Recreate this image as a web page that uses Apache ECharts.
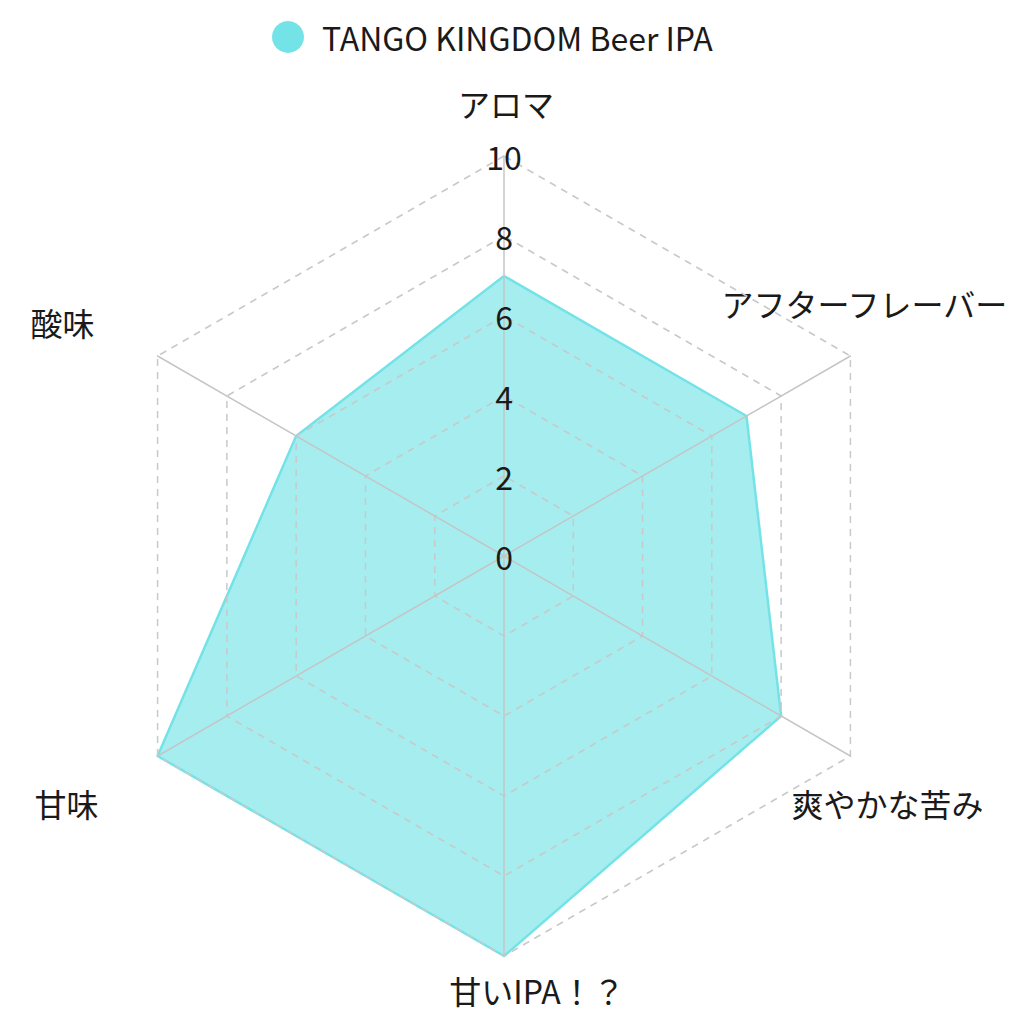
<!DOCTYPE html>
<html>
<head>
<meta charset="utf-8">
<script src="https://cdn.jsdelivr.net/npm/echarts@6/dist/echarts.min.js"></script>
<style>html,body{margin:0;padding:0;background:#fff}#c{width:1024px;height:1024px}</style>
</head>
<body>
<div id="c"></div>
<script>
// ---- data (clockwise from top, as in the reference) ----
var categories = ['アロマ', 'アフターフレーバー', '爽やかな苦み', '甘いIPA！？', '甘味', '酸味'];
var seriesName = 'TANGO KINGDOM Beer IPA';
var values = [7, 7, 8, 10, 10, 6];
var axisMax = 10;
var tickLabels = ['0', '2', '4', '6', '8', '10'];

// ---- layout ----
var FONT = '"Noto Sans CJK JP", "Noto Sans", sans-serif';
var CX = 504, CY = 556, R = 400;
// label centre offsets from each outer vertex (clockwise order)
var labelOffsets = [[2, -53], [14, -53], [37, 47], [33, 34], [-91, 47], [-95, -34]];

// ECharts lays indicators out counter-clockwise; reorder so the picture matches
var order = [0, 5, 4, 3, 2, 1];
var indicators = order.map(function (i, k) {
  var ind = { name: categories[i], max: axisMax, min: 0 };
  if (k === 0) ind.axisLabel = { show: true };
  return ind;
});
var ordered = order.map(function (i) { return values[i]; });

var graphics = categories.map(function (name, i) {
  var a = (90 - i * 60) * Math.PI / 180;
  var vx = CX + R * Math.cos(a), vy = CY - R * Math.sin(a);
  return {
    type: 'text',
    x: vx + labelOffsets[i][0],
    y: vy + labelOffsets[i][1],
    style: { text: name, font: '32px ' + FONT, fill: '#1a1a1a', align: 'center', verticalAlign: 'middle' }
  };
});

var chart = echarts.init(document.getElementById('c'), null, { renderer: 'svg' });
chart.setOption({
  animation: false,
  backgroundColor: '#ffffff',
  legend: {
    data: [seriesName],
    left: 267, top: 16,
    icon: 'circle', itemWidth: 32, itemHeight: 32,
    textStyle: { fontFamily: FONT, fontSize: 32, color: '#1a1a1a', padding: [0, 0, 0, 13] }
  },
  radar: {
    z: 5,
    center: [CX, CY],
    radius: R,
    startAngle: 90,
    splitNumber: 5,
    shape: 'polygon',
    indicator: indicators,
    axisName: { show: false },
    axisLine: { lineStyle: { color: '#c4c6c6', width: 1.5 } },
    splitLine: { lineStyle: { color: '#c6caca', width: 1.5, type: [7, 6] } },
    splitArea: { show: false },
    axisTick: { show: false },
    axisLabel: {
      show: false, fontFamily: FONT, fontSize: 32, color: '#1a1a1a',
      align: 'center', verticalAlign: 'middle', margin: 0,
      formatter: function (v) { return tickLabels[Math.round(v / 2)] || ''; }
    }
  },
  graphic: graphics,
  series: [{
    type: 'radar',
    z: 2,
    name: seriesName,
    symbol: 'none',
    itemStyle: { color: '#74e3e7' },
    lineStyle: { color: '#74e3e7', width: 2.5 },
    areaStyle: { color: '#74e3e7', opacity: 0.64 },
    data: [{ name: seriesName, value: ordered }]
  }]
});
</script>
</body>
</html>
